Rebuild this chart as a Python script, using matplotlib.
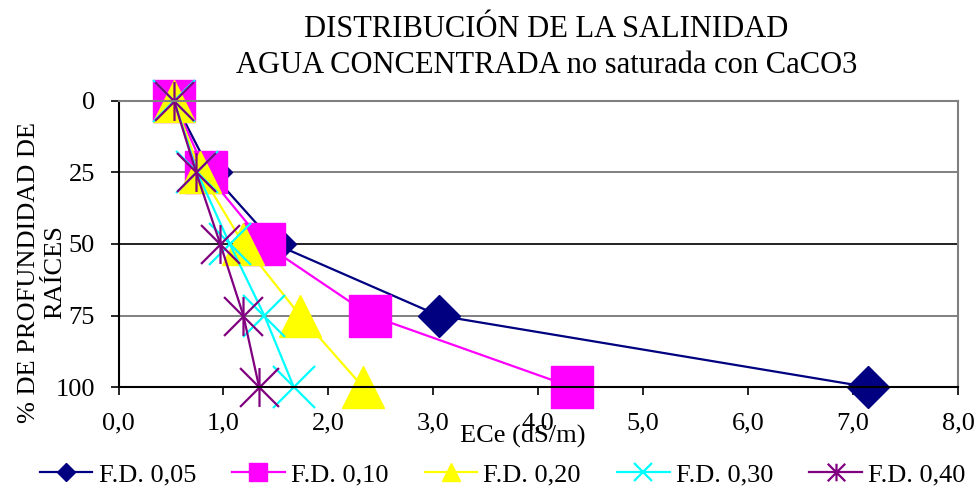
import matplotlib.pyplot as plt
import numpy as np
from matplotlib.path import Path
from matplotlib.ticker import FuncFormatter

plt.rcParams['font.family'] = ['Liberation Serif', 'DejaVu Serif']

# profundidad (% de raices)
prof = [0, 25, 50, 75, 100]

# ECe (dS/m) por fraccion de drenaje
fd_005 = [0.53, 0.88, 1.49, 3.05, 7.14]
fd_010 = [0.53, 0.83, 1.39, 2.40, 4.32]
fd_020 = [0.53, 0.78, 1.19, 1.73, 2.33]
fd_030 = [0.53, 0.75, 1.06, 1.39, 1.67]
fd_040 = [0.53, 0.74, 0.97, 1.19, 1.34]

labels = ['F.D. 0,05', 'F.D. 0,10', 'F.D. 0,20', 'F.D. 0,30', 'F.D. 0,40']

# asterisco: X mas linea vertical
star = Path([(-1, -1), (1, 1), (-1, 1), (1, -1), (0, -1), (0, 1)],
            [Path.MOVETO, Path.LINETO, Path.MOVETO, Path.LINETO, Path.MOVETO, Path.LINETO])

series = [
    (fd_005, '#000080', 'D', 21, 1.0),
    (fd_010, '#FF00FF', 's', 30, 1.0),
    (fd_020, '#FFFF00', '^', 30, 1.0),
    (fd_030, '#00FFFF', 'x', 30, 1.6),
    (fd_040, '#800080', star, 28, 1.6),
]

fig = plt.figure(figsize=(9.76, 4.91), dpi=100)
ax = fig.add_axes([118.5 / 976, 1 - 387 / 491, (958 - 118.5) / 976, (387 - 101) / 491])

for (vals, col, mk, ms, mew), lab in zip(series, labels):
    ax.plot(vals, prof, color=col, lw=1.6, marker=mk, markersize=ms,
            markerfacecolor=col, markeredgecolor=col, markeredgewidth=mew,
            label=lab, clip_on=False)

ax.set_xlim(0, 8)
ax.set_ylim(100, 0)
ax.set_xticks(np.arange(0, 9, 1))
ax.set_yticks(prof)
ax.xaxis.set_major_formatter(FuncFormatter(lambda v, p: ('%.1f' % v).replace('.', ',')))
ax.tick_params(axis='both', labelsize=19, direction='out', length=6, width=1.2)
ax.tick_params(axis='y', pad=11)
ax.tick_params(axis='x', pad=12)

for y in [25, 50, 75]:
    ax.axhline(y, color='#808080' if y != 50 else '#202020', lw=1.4, zorder=0)
ax.spines['top'].set_color('#808080')
ax.spines['right'].set_color('#808080')
for s in ax.spines.values():
    s.set_linewidth(1.5)

fig.text(0.56, 0.939, 'DISTRIBUCIÓN DE LA SALINIDAD', ha='center', va='center', fontsize=22)
fig.text(0.56, 0.866, 'AGUA CONCENTRADA no saturada con CaCO3', ha='center', va='center', fontsize=22)

fig.text(0.030, 0.446, '% DE PROFUNDIDAD DE', rotation=90, ha='center', va='center', fontsize=19)
fig.text(0.0563, 0.446, 'RAÍCES', rotation=90, ha='center', va='center', fontsize=19)
fig.text(0.536, 0.0978, 'ECe (dS/m)', ha='center', va='baseline', fontsize=19)

fig.legend(loc='center', bbox_to_anchor=(0.515, 0.033), ncol=5, frameon=False,
           fontsize=19, markerscale=0.45, handlelength=2.0, handletextpad=0.23,
           columnspacing=1.37)

fig.savefig('out.png', dpi=100)
